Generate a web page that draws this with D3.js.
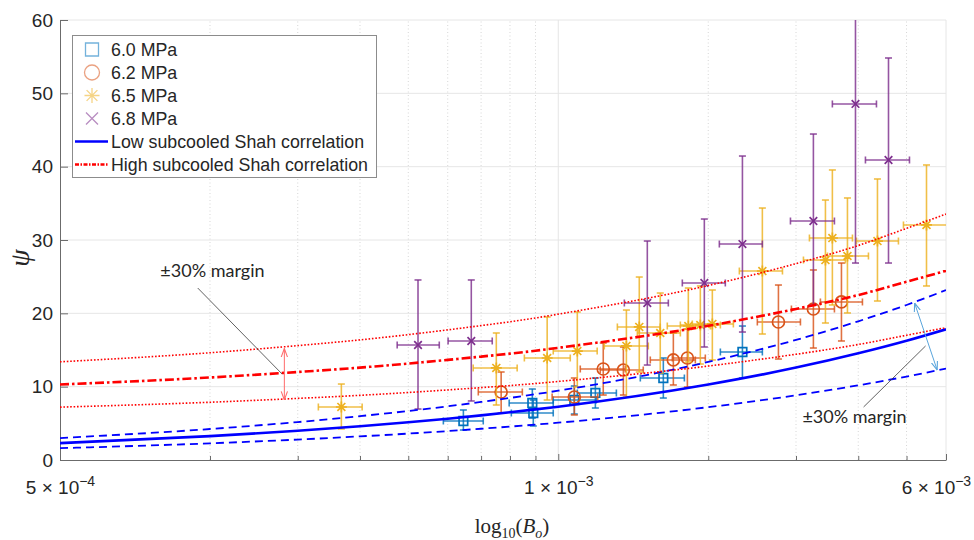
<!DOCTYPE html>
<html>
<head>
<meta charset="utf-8">
<script src="https://cdn.jsdelivr.net/npm/d3@7"></script>
<style>
	html, body { margin: 0; padding: 0; background: #fff; }
	svg { display: block; }
</style>
</head>
<body>
<div id="chart"></div>
<script>
// ---- data ----
// rows: [Bo, psi, Bo low, Bo high, psi low, psi high]
const p60 = [
	[6.45e-4, 5.32, 5.88e-4, 7.07e-4, 4.09, 6.82],
	[8.87e-4, 7.77, 7.97e-4, 9.77e-4, 5.73, 9.68],
	[8.91e-4, 6.41, 8.05e-4, 9.77e-4, 4.64, 8.18],
	[10.77e-4, 8.18, 9.77e-4, 11.92e-4, 6.27, 10.09],
	[11.87e-4, 9.14, 10.92e-4, 13.08e-4, 7.09, 11.18],
	[16.25e-4, 11.18, 14.61e-4, 17.91e-4, 8.45, 13.91],
	[23.42e-4, 14.73, 21.15e-4, 25.68e-4, 11.18, 18.27],
]
const p62 = [
	[7.68e-4, 9.27, 6.91e-4, 8.47e-4, 6.41, 12.0],
	[10.77e-4, 8.59, 9.72e-4, 12.0e-4, 6.14, 11.18],
	[12.31e-4, 12.41, 11.07e-4, 13.63e-4, 8.86, 15.95],
	[13.51e-4, 12.27, 12.14e-4, 14.81e-4, 8.86, 15.41],
	[17.02e-4, 13.64, 15.30e-4, 18.84e-4, 10.23, 17.32],
	[18.16e-4, 13.91, 16.94e-4, 19.73e-4, 9.95, 17.86],
	[27.66e-4, 18.82, 25.09e-4, 30.62e-4, 13.77, 23.86],
	[32.51e-4, 20.59, 29.37e-4, 35.83e-4, 15.27, 25.91],
	[37.01e-4, 21.55, 33.58e-4, 40.78e-4, 16.23, 26.86],
]
const p65 = [
	[3.67e-4, 7.23, 3.30e-4, 4.04e-4, 4.23, 10.36],
	[7.51e-4, 12.55, 6.75e-4, 8.27e-4, 7.5, 17.32],
	[9.50e-4, 13.91, 8.55e-4, 10.57e-4, 8.18, 19.5],
	[10.92e-4, 14.86, 9.77e-4, 11.97e-4, 9.95, 20.18],
	[13.70e-4, 15.55, 12.37e-4, 15.16e-4, 8.59, 20.45],
	[14.54e-4, 18.14, 13.14e-4, 16.02e-4, 12.0, 24.95],
	[16.02e-4, 17.32, 14.41e-4, 17.58e-4, 11.86, 22.77],
	[18.24e-4, 18.27, 16.55e-4, 20.20e-4, 13.36, 23.45],
	[19.28e-4, 18.41, 17.58e-4, 21.15e-4, 13.09, 23.73],
	[20.38e-4, 18.55, 18.58e-4, 22.46e-4, 13.64, 23.18],
	[25.68e-4, 25.77, 23.09e-4, 28.18e-4, 17.18, 34.36],
	[34.37e-4, 27.27, 31.05e-4, 37.70e-4, 18.68, 35.45],
	[35.49e-4, 30.27, 31.92e-4, 38.94e-4, 21.14, 39.55],
	[38.05e-4, 27.82, 34.69e-4, 41.93e-4, 20.05, 35.73],
	[43.71e-4, 29.86, 39.67e-4, 48.16e-4, 21.68, 38.32],
	[54.83e-4, 32.05, 49.29e-4, 61.0e-4, 23.73, 40.23],
]
const p68 = [
	[5.23e-4, 15.68, 4.75e-4, 5.77e-4, 6.95, 24.55],
	[6.69e-4, 16.23, 6.01e-4, 7.37e-4, 8.05, 24.55],
	[15.09e-4, 21.41, 13.57e-4, 16.63e-4, 12.95, 29.86],
	[19.64e-4, 24.14, 17.74e-4, 21.64e-4, 15.41, 32.86],
	[23.42e-4, 29.45, 21.05e-4, 25.68e-4, 17.45, 41.45],
	[32.51e-4, 32.59, 29.24e-4, 35.83e-4, 21.14, 44.45],
	[39.49e-4, 48.55, 35.49e-4, 43.51e-4, 26.86, 70.0],
	[46.00e-4, 40.91, 41.35e-4, 50.68e-4, 26.86, 54.82],
]
const seriesNames = ['6.0 MPa', '6.2 MPa', '6.5 MPa', '6.8 MPa']
const seriesColors = ['#0072BD', '#D95319', '#EDB120', '#7E2F8E']
const seriesShapes = ['square', 'circle', 'asterisk', 'cross']
const seriesRows = [p60, p62, p65, p68]

// Shah correlation curves, read at the log ticks
const curveBo = [1e-4, 2e-4, 3e-4, 4e-4, 5e-4, 6e-4, 7e-4, 8e-4, 9e-4, 1e-3, 2e-3, 3e-3, 4e-3, 5e-3, 6e-3]
const lowShah = [2.30, 3.25, 3.98, 4.60, 5.14, 5.63, 6.09, 6.51, 6.90, 7.27, 10.29, 12.60, 14.55, 16.26, 17.82]
const highShah = [10.3, 11.25, 12.0, 12.6, 13.15, 13.65, 14.1, 14.5, 14.9, 15.3, 18.3, 20.6, 22.5, 24.3, 25.8]
const MARGIN = 0.3
const lineNames = ['Low subcooled Shah correlation', 'High subcooled Shah correlation']

// axes
const yTicks = [0, 10, 20, 30, 40, 50, 60]
const xMajor = [1e-4, 1e-3, 6e-3]
const xTickLabels = [['5 × 10', '−4'], ['1 × 10', '−3'], ['6 × 10', '−3']]
const xMinor = [2e-4, 3e-4, 4e-4, 5e-4, 6e-4, 7e-4, 8e-4, 9e-4, 2e-3, 3e-3, 4e-3, 5e-3]

// annotations (data coords)
const noteText = '±30% margin'
const leftLabel = [1.59e-4, 24.95]
const leftLeader = [[1.89e-4, 23.45], [2.79e-4, 11.73]]
const leftArrow = [[2.82e-4, 15.2], [2.82e-4, 8.2]]
const rightLabel = [30.9e-4, 5.05]
const rightLeader = [[41.0e-4, 7.23], [54.6e-4, 15.55]]
const rightArrow = [[51.9e-4, 21.4], [57.6e-4, 12.27]]

// ---- chart ----
const width = 974
const height = 540
const axisColor = '#6b6b6b'
const textColor = '#262626'

const x = d3.scaleLog().domain([1e-4, 6e-3]).range([60, 946])
const y = d3.scaleLinear().domain([0, 60]).range([460, 20])

const svg = d3.select('#chart')
	.append('svg')
	.attr('width', width)
	.attr('height', height)
	.style('font-family', '"Liberation Sans", Arial, sans-serif')

const defs = svg.append('defs')
defs.append('clipPath').attr('id', 'clip')
	.append('rect')
	.attr('x', x.range()[0]).attr('y', y.range()[1])
	.attr('width', x.range()[1] - x.range()[0])
	.attr('height', y.range()[0] - y.range()[1])

function arrowHead(id, color) {
	defs.append('marker')
		.attr('id', id)
		.attr('viewBox', '0 0 10 10')
		.attr('refX', 9.5).attr('refY', 5)
		.attr('markerWidth', 9).attr('markerHeight', 9)
		.attr('orient', 'auto-start-reverse')
		.append('path')
		.attr('d', 'M0,1.5 L9.5,5 L0,8.5')
		.attr('fill', 'none')
		.attr('stroke', color)
		.attr('stroke-width', 1.2)
}
arrowHead('arrRed', '#ff6b6b')
arrowHead('arrBlue', '#5aa5dc')

// grid
const grid = svg.append('g')
grid.selectAll('line.hgrid')
	.data(yTicks.filter(d => d > 0))
	.join('line')
	.attr('x1', x.range()[0]).attr('x2', x.range()[1])
	.attr('y1', d => y(d)).attr('y2', d => y(d))
	.attr('stroke', '#e6e6e6')
grid.selectAll('line.vmajor')
	.data(xMajor.slice(1))
	.join('line')
	.attr('x1', d => x(d)).attr('x2', d => x(d))
	.attr('y1', y.range()[0]).attr('y2', y.range()[1])
	.attr('stroke', '#e6e6e6')
grid.selectAll('line.vminor')
	.data(xMinor)
	.join('line')
	.attr('x1', d => x(d)).attr('x2', d => x(d))
	.attr('y1', y.range()[0]).attr('y2', y.range()[1])
	.attr('stroke', '#d6d6d6')
	.attr('stroke-dasharray', '1,2.5')

// y axis
const gy = svg.append('g')
	.attr('transform', `translate(${x.range()[0]},0)`)
	.call(d3.axisLeft(y).tickValues(yTicks).tickSizeInner(-8).tickSizeOuter(0).tickPadding(7))
gy.select('.domain').attr('stroke', axisColor)
gy.selectAll('.tick line').attr('stroke', axisColor)
gy.selectAll('.tick text')
	.attr('font-size', 19)
	.attr('font-family', '"Liberation Sans", Arial, sans-serif')
	.attr('fill', textColor)

// x axis
const gx = svg.append('g')
	.attr('transform', `translate(0,${y.range()[0]})`)
	.call(d3.axisBottom(x).tickValues(xMajor).tickSizeInner(-6).tickSizeOuter(0).tickFormat(''))
gx.select('.domain').attr('stroke', axisColor)
gx.selectAll('.tick line').attr('stroke', axisColor)
gx.selectAll('.tick text').each(function (d, i) {
	const last = i === xMajor.length - 1
	const t = d3.select(this)
		.attr('y', 34).attr('dy', 0)
		.attr('x', last ? -10 : 0)
		.attr('font-size', 19)
		.attr('font-family', '"Liberation Sans", Arial, sans-serif')
		.attr('fill', textColor)
	t.append('tspan').text(xTickLabels[i][0])
	t.append('tspan').attr('dy', -8).attr('font-size', 14).text(xTickLabels[i][1])
})
const gxm = svg.append('g')
	.attr('transform', `translate(0,${y.range()[0]})`)
	.call(d3.axisBottom(x).tickValues(xMinor).tickSizeInner(-4).tickSizeOuter(0).tickFormat(''))
gxm.select('.domain').remove()
gxm.selectAll('.tick line').attr('stroke', axisColor)

// axis labels
svg.append('text')
	.attr('transform', 'translate(19,258) rotate(-90)')
	.attr('text-anchor', 'middle')
	.attr('dominant-baseline', 'central')
	.attr('font-family', '"Liberation Serif", "Times New Roman", serif')
	.attr('font-style', 'italic')
	.attr('font-size', 28)
	.attr('fill', textColor)
	.text('ψ')

const xlab = svg.append('text')
	.attr('x', 512).attr('y', 533)
	.attr('text-anchor', 'middle')
	.attr('font-family', '"Liberation Serif", "Times New Roman", serif')
	.attr('font-size', 21)
	.attr('fill', textColor)
xlab.append('tspan').text('log')
xlab.append('tspan').attr('dy', 5).attr('font-size', 14).text('10')
xlab.append('tspan').attr('dy', -5).text('(')
xlab.append('tspan').attr('font-style', 'italic').text('B')
xlab.append('tspan').attr('dy', 5).attr('font-size', 14).attr('font-style', 'italic').text('o')
xlab.append('tspan').attr('dy', -5).text(')')

// markers
function markerPath(shape, s) {
	const k = s * 0.72
	if (shape === 'square') return `M${-s},${-s}H${s}V${s}H${-s}Z`
	if (shape === 'circle') return d3.arc()({ innerRadius: 0, outerRadius: s, startAngle: 0, endAngle: 2 * Math.PI })
	if (shape === 'asterisk') return `M${-s},0H${s}M0,${-s}V${s}M${-k},${-k}L${k},${k}M${-k},${k}L${k},${-k}`
	return `M${-s},${-s}L${s},${s}M${-s},${s}L${s},${-s}`
}
const markerSize = { square: 4.3, circle: 6, asterisk: 5.5, cross: 3.8 }
const legendSize = { square: 6.5, circle: 7.5, asterisk: 7.5, cross: 6 }
const cap = 3.5

const plot = svg.append('g').attr('clip-path', 'url(#clip)')

seriesRows.forEach((rows, si) => {
	const color = seriesColors[si]
	const shape = seriesShapes[si]
	const g = plot.append('g')
	const pts = g.selectAll('g.pt')
		.data(rows)
		.join('g')
		.attr('stroke', color)
		.attr('fill', 'none')

	const bars = pts.append('g').attr('stroke-width', 1.6).attr('stroke-opacity', 0.82)
	bars.append('line') // vertical
		.attr('x1', d => x(d[0])).attr('x2', d => x(d[0]))
		.attr('y1', d => y(d[4])).attr('y2', d => y(d[5]))
	bars.append('line')
		.attr('x1', d => x(d[0]) - cap).attr('x2', d => x(d[0]) + cap)
		.attr('y1', d => y(d[4])).attr('y2', d => y(d[4]))
	bars.append('line')
		.attr('x1', d => x(d[0]) - cap).attr('x2', d => x(d[0]) + cap)
		.attr('y1', d => y(d[5])).attr('y2', d => y(d[5]))
	bars.append('line') // horizontal
		.attr('x1', d => x(d[2])).attr('x2', d => x(d[3]))
		.attr('y1', d => y(d[1])).attr('y2', d => y(d[1]))
	bars.append('line')
		.attr('x1', d => x(d[2])).attr('x2', d => x(d[2]))
		.attr('y1', d => y(d[1]) - cap).attr('y2', d => y(d[1]) + cap)
	bars.append('line')
		.attr('x1', d => x(d[3])).attr('x2', d => x(d[3]))
		.attr('y1', d => y(d[1]) - cap).attr('y2', d => y(d[1]) + cap)

	pts.append('path')
		.attr('transform', d => `translate(${x(d[0])},${y(d[1])})`)
		.attr('d', markerPath(shape, markerSize[shape]))
		.attr('stroke-width', 1.7)
})

// Shah curves with +-30% bands
const line = d3.line()
	.x(d => x(d[0]))
	.y(d => y(d[1]))
	.curve(d3.curveMonotoneX)
const scaled = (vals, f) => curveBo.map((b, i) => [b, vals[i] * f])

const curves = [
	{ vals: lowShah, f: 1 + MARGIN, color: '#0000FF', w: 1.8, dash: '8,5' },
	{ vals: lowShah, f: 1 - MARGIN, color: '#0000FF', w: 1.8, dash: '8,5' },
	{ vals: lowShah, f: 1, color: '#0000FF', w: 2.6, dash: null },
	{ vals: highShah, f: 1 + MARGIN, color: '#FF0000', w: 1.6, dash: '1.6,1.8' },
	{ vals: highShah, f: 1 - MARGIN, color: '#FF0000', w: 1.6, dash: '1.6,1.8' },
	{ vals: highShah, f: 1, color: '#FF0000', w: 2.6, dash: '9,3,2.5,3' },
]
plot.selectAll('path.curve')
	.data(curves)
	.join('path')
	.attr('class', 'curve')
	.attr('d', c => line(scaled(c.vals, c.f)))
	.attr('fill', 'none')
	.attr('stroke', c => c.color)
	.attr('stroke-width', c => c.w)
	.attr('stroke-dasharray', c => c.dash)

// annotations
const ann = svg.append('g')
const pt = d => [x(d[0]), y(d[1])]
function leader(pts, color, w, head) {
	const a = pt(pts[0])
	const b = pt(pts[1])
	const l = ann.append('line')
		.attr('x1', a[0]).attr('y1', a[1])
		.attr('x2', b[0]).attr('y2', b[1])
		.attr('stroke', color)
		.attr('stroke-width', w)
	if (head) l.attr('marker-start', `url(#${head})`).attr('marker-end', `url(#${head})`)
}
leader(leftLeader, '#3a3a3a', 0.8)
leader(rightLeader, '#3a3a3a', 0.8)
leader(leftArrow, '#ff6b6b', 1, 'arrRed')
leader(rightArrow, '#5aa5dc', 1, 'arrBlue')
;[leftLabel, rightLabel].forEach(d => {
	ann.append('text')
		.attr('x', x(d[0])).attr('y', y(d[1]))
		.attr('font-family', 'Lato, "Open Sans", sans-serif')
		.attr('font-size', 18)
		.attr('fill', textColor)
		.text(noteText)
})

// legend
const legend = svg.append('g').attr('transform', 'translate(72,35)')
legend.append('rect')
	.attr('x', 0.5).attr('y', 0.5)
	.attr('width', 304).attr('height', 142)
	.attr('fill', '#fff')
	.attr('stroke', '#8c8c8c')
const rowY = i => 14.5 + i * 23
seriesNames.forEach((name, i) => {
	legend.append('path')
		.attr('transform', `translate(20,${rowY(i)})`)
		.attr('d', markerPath(seriesShapes[i], legendSize[seriesShapes[i]]))
		.attr('fill', 'none')
		.attr('stroke', seriesColors[i])
		.attr('stroke-opacity', 0.55)
		.attr('stroke-width', 1.3)
	legend.append('text')
		.attr('x', 39).attr('y', rowY(i))
		.attr('dy', '0.35em')
		.attr('font-size', 17.8)
		.attr('fill', textColor)
		.text(name)
})
lineNames.forEach((name, j) => {
	const i = j + 4
	legend.append('line')
		.attr('x1', 3).attr('x2', 36)
		.attr('y1', rowY(i)).attr('y2', rowY(i))
		.attr('stroke', j === 0 ? '#0000FF' : '#FF0000')
		.attr('stroke-width', 2.4)
		.attr('stroke-dasharray', j === 0 ? null : '4,1.5,1.5,1.5')
	legend.append('text')
		.attr('x', 39).attr('y', rowY(i))
		.attr('dy', '0.35em')
		.attr('font-size', 17.8)
		.attr('fill', textColor)
		.text(name)
})
</script>
</body>
</html>
